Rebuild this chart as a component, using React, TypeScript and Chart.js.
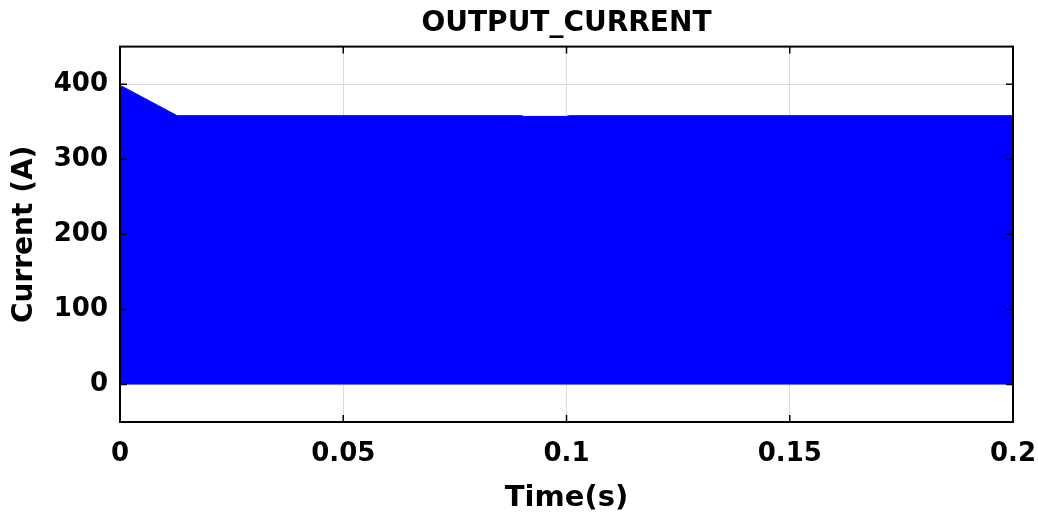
import React, { useEffect, useRef } from "react";
import { Chart, registerables } from "chart.js";

Chart.register(...registerables);

// Envelope of the output current (A) versus time (s); the waveform fills down to 0 A
const timeS = [0, 0.0005, 0.0128, 0.09, 0.0905, 0.1, 0.1005, 0.2];
const currentA = [398, 397, 358, 358, 357, 357, 358, 358];
const xTickValues = [0, 0.05, 0.1, 0.15, 0.2];
const xTickLabels = ["0", "0.05", "0.1", "0.15", "0.2"];
const yTickValues = [0, 100, 200, 300, 400];
const yTickLabels = ["0", "100", "200", "300", "400"];

const FONT = "'DejaVu Sans', sans-serif";

const framePlugin = {
  id: "frame",
  afterDraw(chart: any) {
    const { ctx, chartArea } = chart;
    const xs = chart.scales.x;
    const ys = chart.scales.y;
    ctx.save();
    ctx.strokeStyle = "#000";
    ctx.lineWidth = 1.5;
    const tl = 7;
    ctx.beginPath();
    xTickValues.forEach((v) => {
      const px = xs.getPixelForValue(v);
      ctx.moveTo(px, chartArea.top);
      ctx.lineTo(px, chartArea.top + tl);
      ctx.moveTo(px, chartArea.bottom);
      ctx.lineTo(px, chartArea.bottom - tl);
    });
    yTickValues.forEach((v) => {
      const py = ys.getPixelForValue(v);
      ctx.moveTo(chartArea.left, py);
      ctx.lineTo(chartArea.left + tl, py);
      ctx.moveTo(chartArea.right, py);
      ctx.lineTo(chartArea.right - tl, py);
    });
    ctx.stroke();
    ctx.lineWidth = 2;
    ctx.strokeRect(
      chartArea.left,
      chartArea.top,
      chartArea.right - chartArea.left,
      chartArea.bottom - chartArea.top
    );
    ctx.restore();
  },
};

export default function App() {
  const ref = useRef<HTMLCanvasElement | null>(null);

  useEffect(() => {
    if (!ref.current) return;
    const points = timeS.map((t, i) => ({ x: t, y: currentA[i] }));
    const chart = new Chart(ref.current, {
      type: "line",
      data: {
        datasets: [
          {
            data: points,
            borderColor: "#0000FF",
            backgroundColor: "#0000FF",
            borderWidth: 1,
            fill: "origin",
            pointRadius: 0,
            tension: 0,
          },
        ],
      },
      options: {
        animation: false,
        responsive: true,
        maintainAspectRatio: false,
        layout: { padding: { left: 0, right: 25, top: 0, bottom: 0 } },
        plugins: {
          legend: { display: false },
          tooltip: { enabled: false },
          title: {
            display: true,
            text: "OUTPUT_CURRENT",
            fullSize: false,
            color: "#000",
            font: { family: FONT, size: 28, weight: "bold" },
            padding: { top: 7, bottom: 6 },
          },
        },
        scales: {
          x: {
            type: "linear",
            min: 0,
            max: 0.2,
            afterBuildTicks: (scale: any) => {
              scale.ticks = xTickValues.map((v) => ({ value: v }));
            },
            afterFit: (scale: any) => {
              scale.height = 97;
              scale.paddingLeft = 0;
              scale.paddingRight = 0;
            },
            ticks: {
              callback: (v: any) => {
                const i = xTickValues.findIndex((t) => Math.abs(t - Number(v)) < 1e-9);
                return i >= 0 ? xTickLabels[i] : "";
              },
              color: "#000",
              font: { family: FONT, size: 26, weight: "bold" },
              padding: 17,
              maxRotation: 0,
              autoSkip: false,
            },
            grid: { color: "#dcdcdc", lineWidth: 1, drawTicks: false },
            border: { display: false },
            title: {
              display: true,
              text: "Time(s)",
              color: "#000",
              font: { family: FONT, size: 29, weight: "bold" },
              padding: { top: 0, bottom: 3 },
            },
          },
          y: {
            type: "linear",
            min: -50,
            max: 450,
            afterBuildTicks: (scale: any) => {
              scale.ticks = yTickValues.map((v) => ({ value: v }));
            },
            afterFit: (scale: any) => {
              scale.width = 120;
              scale.paddingTop = 0;
              scale.paddingBottom = 0;
            },
            ticks: {
              callback: (v: any) => {
                const i = yTickValues.indexOf(Number(v));
                return i >= 0 ? yTickLabels[i] : "";
              },
              color: "#000",
              font: { family: FONT, size: 26, weight: "bold" },
              padding: 12,
              autoSkip: false,
            },
            grid: { color: "#dcdcdc", lineWidth: 1, drawTicks: false },
            border: { display: false },
            title: {
              display: true,
              text: "Current (A)",
              color: "#000",
              font: { family: FONT, size: 28, weight: "bold" },
              padding: { top: 8, bottom: 0 },
            },
          },
        },
      },
      plugins: [framePlugin],
    });
    return () => chart.destroy();
  }, []);

  return (
    <div
      style={{
        position: "absolute",
        left: 0,
        top: 0,
        width: 1038,
        height: 519,
        background: "#fff",
      }}
    >
      <canvas ref={ref} />
    </div>
  );
}
